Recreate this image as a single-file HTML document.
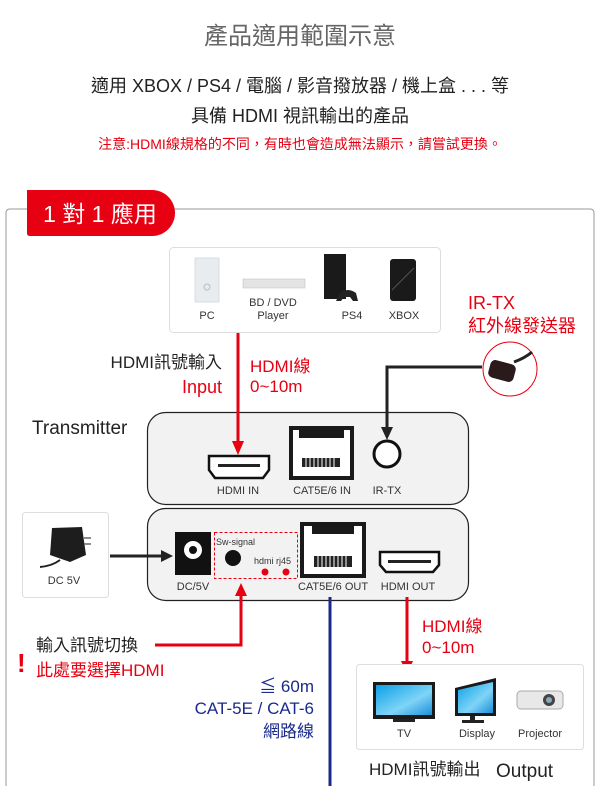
<!DOCTYPE html>
<html><head><meta charset="utf-8"><style>
html,body{margin:0;padding:0;background:#fff;}
svg{display:block;}
text{font-family:"Liberation Sans","Noto Sans CJK TC",sans-serif;}
</style></head><body>
<svg width="600" height="786" viewBox="0 0 600 786" xmlns="http://www.w3.org/2000/svg">
<defs>
<linearGradient id="scr" x1="0" y1="0" x2="1" y2="1"><stop offset="0" stop-color="#0aa0e6"/><stop offset="0.6" stop-color="#7fd4f7"/><stop offset="1" stop-color="#1a8fd8"/></linearGradient>
</defs>
<!-- header -->
<text x="300" y="44" font-size="24" fill="#666" text-anchor="middle">產品適用範圍示意</text>
<text x="300" y="92" font-size="18" fill="#222" text-anchor="middle">適用 XBOX / PS4 / 電腦 / 影音撥放器 / 機上盒 . . . 等</text>
<text x="300" y="122" font-size="18" fill="#222" text-anchor="middle">具備 HDMI 視訊輸出的產品</text>
<text x="300" y="149" font-size="14" fill="#e60012" text-anchor="middle">注意:HDMI線規格的不同，有時也會造成無法顯示，請嘗試更換。</text>

<!-- outer frame -->
<path d="M6 786 V213 Q6 209 10 209 H28 M170 209 H590 Q594 209 594 213 V786" fill="none" stroke="#999" stroke-width="1"/>
<path d="M27 190 H152 A23 23 0 0 1 152 236 H30 Q27 236 27 233 Z" fill="#e60012"/>
<text x="100" y="222" font-size="23" fill="#fff" text-anchor="middle">1 對 1 應用</text>

<!-- source box -->
<rect x="169.5" y="247.5" width="271" height="85" rx="4" fill="#fff" stroke="#ddd"/>
<rect x="195" y="258" width="24" height="44" fill="#e8ecef" stroke="#d8dde0"/>
<circle cx="207" cy="287" r="3" fill="none" stroke="#bbb"/>
<rect x="243" y="279" width="62" height="9" fill="#e4e4e4" stroke="#bbb" stroke-width="0.5"/>
<rect x="324" y="254" width="22" height="45" fill="#1a1a1a"/>
<path d="M340 293 q8 -6 16 0 l2 8 h-5 l-3 -4 h-6 l-3 4 h-5z" fill="#222"/>
<rect x="390" y="259" width="26" height="42" rx="3" fill="#1a1a1a"/>
<path d="M392 290 L414 268" stroke="#555" stroke-width="1"/>
<g font-size="11" fill="#333" text-anchor="middle">
<text x="207" y="319">PC</text>
<text x="273" y="306">BD / DVD</text>
<text x="273" y="319">Player</text>
<text x="352" y="319">PS4</text>
<text x="404" y="319">XBOX</text>
</g>

<!-- input labels -->
<text x="222" y="368" font-size="17" fill="#222" text-anchor="end">HDMI訊號輸入</text>
<text x="222" y="393" font-size="18" fill="#e60012" text-anchor="end">Input</text>
<text x="250" y="372" font-size="17" fill="#e60012">HDMI線</text>
<text x="250" y="392" font-size="17" fill="#e60012">0~10m</text>
<text x="468" y="309" font-size="18" fill="#e60012">IR-TX</text>
<text x="468" y="332" font-size="18" fill="#e60012">紅外線發送器</text>
<text x="32" y="434" font-size="19" fill="#222">Transmitter</text>

<!-- IR emitter -->
<circle cx="510" cy="369" r="27" fill="#fff" stroke="#e60012" stroke-width="1"/>
<path d="M514 362 Q525 358 532 352" stroke="#222" stroke-width="3" fill="none"/>
<rect x="489" y="362" width="26" height="18" rx="5" fill="#2a1a1c" transform="rotate(15 502 371)"/>

<!-- transmitter -->
<rect x="147.5" y="412.5" width="321" height="92" rx="18" fill="#f2f2f2" stroke="#222" stroke-width="1.2"/>
<path d="M238 333 V443" stroke="#e60012" stroke-width="3"/>
<path d="M232 441 L244 441 L238 455Z" fill="#e60012"/>
<path d="M387 436 V367 H482" stroke="#222" stroke-width="3" fill="none"/>
<path d="M381 427 L393 427 L387 440Z" fill="#222"/>
<path d="M209 456 H269 V470 L263 478 H215 L209 470Z" fill="#fff" stroke="#111" stroke-width="2.5"/>
<rect x="218" y="464" width="42" height="3" fill="#222"/>
<rect x="289" y="426" width="65" height="54" fill="#1a1a1a"/>
<rect x="293" y="438" width="57" height="38" fill="#fff"/>
<rect x="293" y="430" width="57" height="8" fill="#fff"/>
<rect x="299" y="430" width="45" height="8" fill="#1a1a1a"/>
<g fill="#222"><rect x="302" y="458" width="38" height="9"/></g>
<g stroke="#fff" stroke-width="1"><path d="M306 458v9M310 458v9M314 458v9M318 458v9M322 458v9M326 458v9M330 458v9M334 458v9"/></g>
<circle cx="387" cy="454" r="13" fill="#fff" stroke="#111" stroke-width="3"/>
<g font-size="11" fill="#333" text-anchor="middle">
<text x="238" y="494">HDMI IN</text>
<text x="322" y="494">CAT5E/6 IN</text>
<text x="387" y="494">IR-TX</text>
</g>

<!-- DC adapter -->
<rect x="22.5" y="512.5" width="86" height="85" rx="3" fill="#fff" stroke="#ddd"/>
<path d="M52 528 L82 527 L86 555 L70 562 L50 555 Z" fill="#1d1d1d"/>
<path d="M60 560 Q52 566 40 567" stroke="#222" stroke-width="2" fill="none"/>
<path d="M84 538 h7 M84 544 h7" stroke="#666" stroke-width="1.5"/>
<text x="64" y="584" font-size="11" fill="#333" text-anchor="middle">DC 5V</text>

<!-- receiver -->
<rect x="147.5" y="508.5" width="321" height="92" rx="18" fill="#f2f2f2" stroke="#222" stroke-width="1.2"/>
<path d="M110 556 H164" stroke="#222" stroke-width="3"/>
<path d="M161 550 L173 556 L161 562Z" fill="#222"/>
<rect x="175" y="532" width="36" height="43" fill="#111"/>
<circle cx="193" cy="550" r="9" fill="#fff"/>
<circle cx="193" cy="550" r="4" fill="#111"/>
<rect x="214.5" y="532.5" width="83" height="46" fill="none" stroke="#e60012" stroke-width="1" stroke-dasharray="3,2"/>
<text x="216" y="545" font-size="9" fill="#333">Sw-signal</text>
<circle cx="233" cy="558" r="8" fill="#111"/>
<text x="254" y="564" font-size="9" fill="#333">hdmi rj45</text>
<circle cx="265" cy="572" r="3.5" fill="#e60012"/>
<circle cx="286" cy="572" r="3.5" fill="#e60012"/>
<rect x="300" y="522" width="66" height="56" fill="#1a1a1a"/>
<rect x="304" y="534" width="58" height="40" fill="#fff"/>
<rect x="304" y="526" width="58" height="8" fill="#fff"/>
<rect x="312" y="526" width="42" height="8" fill="#1a1a1a"/>
<rect x="314" y="556" width="38" height="11" fill="#222"/>
<g stroke="#fff" stroke-width="1"><path d="M318 556v11M322 556v11M326 556v11M330 556v11M334 556v11M338 556v11M342 556v11M346 556v11"/></g>
<path d="M380 552 H439 V565 L433 572 H386 L380 565Z" fill="#fff" stroke="#111" stroke-width="2.5"/>
<rect x="388" y="560" width="43" height="3" fill="#222"/>
<g font-size="11" fill="#333" text-anchor="middle">
<text x="193" y="590">DC/5V</text>
<text x="333" y="590">CAT5E/6 OUT</text>
<text x="408" y="590">HDMI OUT</text>
</g>

<!-- connectors below -->
<path d="M330 597 V786" stroke="#1a2a8c" stroke-width="3"/>
<path d="M407 597 V663" stroke="#e60012" stroke-width="3"/>
<path d="M401 661 L413 661 L407 674Z" fill="#e60012"/>
<path d="M155 645 H241 V594" stroke="#e60012" stroke-width="3" fill="none"/>
<path d="M235 596 L247 596 L241 583Z" fill="#e60012"/>

<text x="36" y="651" font-size="17" fill="#222">輸入訊號切換</text>
<text x="17" y="672" font-size="26" fill="#e60012" font-weight="bold">!</text>
<text x="36" y="676" font-size="17" fill="#e60012">此處要選擇HDMI</text>
<g font-size="17" fill="#1a2a8c" text-anchor="end">
<text x="314" y="692">≦ 60m</text>
<text x="314" y="714">CAT-5E / CAT-6</text>
<text x="314" y="737">網路線</text>
</g>
<text x="422" y="632" font-size="17" fill="#e60012">HDMI線</text>
<text x="422" y="653" font-size="17" fill="#e60012">0~10m</text>

<!-- output box -->
<rect x="356.5" y="664.5" width="227" height="85" rx="3" fill="#fff" stroke="#ddd"/>
<rect x="373" y="682" width="62" height="37" fill="#1a1a1a"/>
<rect x="376" y="685" width="56" height="30" fill="url(#scr)"/>
<rect x="393" y="719" width="22" height="3" fill="#222"/>
<path d="M455 688 L496 678 L496 716 L455 716Z" fill="#1a1a1a"/>
<path d="M458 690 L493 682 L493 713 L458 713Z" fill="url(#scr)"/>
<rect x="470" y="716" width="5" height="5" fill="#222"/><rect x="462" y="720" width="22" height="3" fill="#222"/>
<rect x="517" y="691" width="46" height="18" rx="4" fill="#e8e8e8" stroke="#aaa"/>
<circle cx="549" cy="700" r="6" fill="#444"/><circle cx="549" cy="700" r="3" fill="#8ab"/>
<g font-size="11" fill="#333" text-anchor="middle">
<text x="404" y="737">TV</text>
<text x="477" y="737">Display</text>
<text x="540" y="737">Projector</text>
</g>
<text x="369" y="775" font-size="17" fill="#222">HDMI訊號輸出</text>
<text x="496" y="777" font-size="19" fill="#222">Output</text>
</svg>
</body></html>
